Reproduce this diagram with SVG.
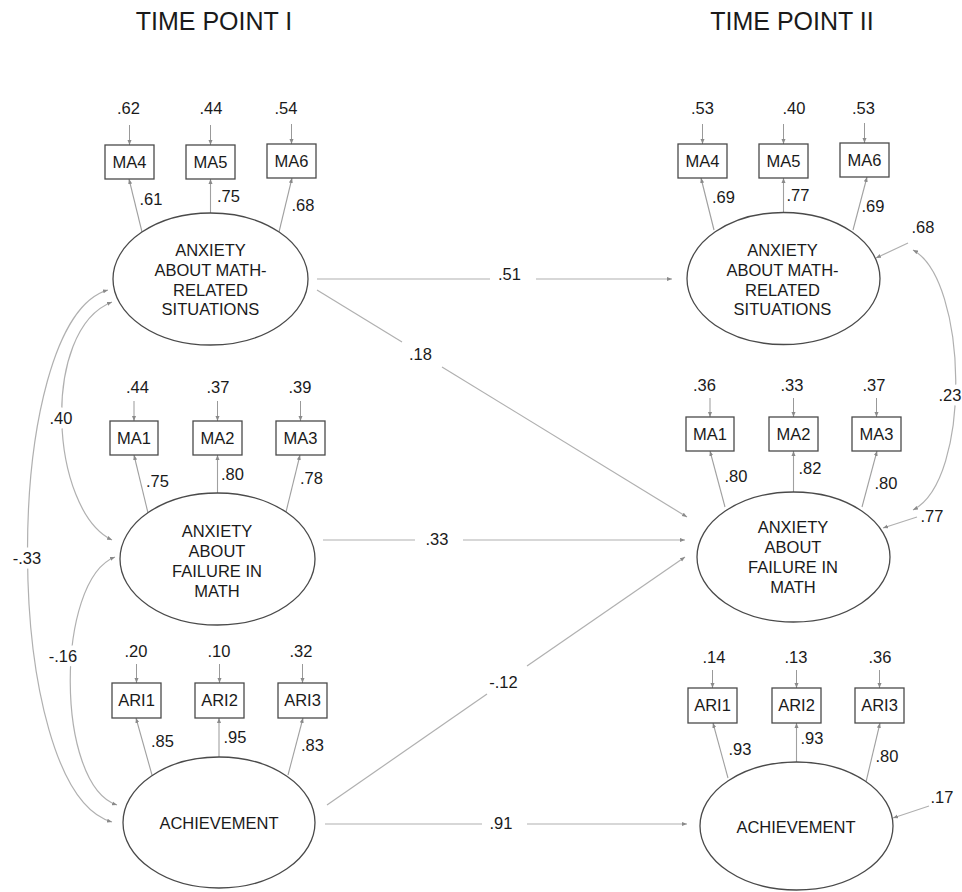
<svg xmlns="http://www.w3.org/2000/svg" width="962" height="892" viewBox="0 0 962 892">
<defs>
<marker id="ah" viewBox="0 0 10 10" refX="10" refY="5" markerWidth="5" markerHeight="5" markerUnits="userSpaceOnUse" orient="auto-start-reverse"><path d="M0,1 L10,5 L0,9 Z" fill="#8a8a8a"/></marker>
<style>
text{font-family:"Liberation Sans",Arial,sans-serif;fill:#1a1a1a;text-anchor:middle}
.t{font-size:25px}
.n{font-size:16.5px}
.lat{fill:#fff;stroke:#4a4a4a;stroke-width:1.3}
.obs{fill:#fff;stroke:#4a4a4a;stroke-width:1.3}
.c{fill:none;stroke:#b0b0b0;stroke-width:1.2}
.ea{fill:none;stroke:#999;stroke-width:1;marker-end:url(#ah)}
.ld{fill:none;stroke:#a0a0a0;stroke-width:1.1;marker-end:url(#ah)}
.arr{marker-end:url(#ah)}
.dbl{marker-start:url(#ah);marker-end:url(#ah)}
.halo{stroke:#fff;stroke-width:9px;paint-order:stroke;stroke-linejoin:round}
</style>
</defs>
<rect width="962" height="892" fill="#fff"/>
<text class="t" x="214" y="30">TIME POINT I</text>
<text class="t" x="792" y="30">TIME POINT II</text>

<g id="connectors">
<path class="c" d="M317,279 H490"/><path class="c arr" d="M536,279 H672"/>
<path class="c" d="M317,290 L402,342"/><path class="c arr" d="M442,367 L687,517"/>
<path class="c" d="M323,540 H415"/><path class="c arr" d="M463,540 H685"/>
<path class="c" d="M327,805 L487,694"/><path class="c arr" d="M527,666 L685,557"/>
<path class="c" d="M325,824 H482"/><path class="c arr" d="M527,824 H687"/>
<path class="c dbl" d="M108,290 C0,320 0,790 112,822"/>
<path class="c dbl" d="M112,302 C40,330 50,510 112,540"/>
<path class="c dbl" d="M115,557 C55,580 55,785 117,805"/>
<path class="c dbl" d="M913,250 C968,280 972,480 913,510"/>
<path class="c arr" d="M908,243 L876,258"/>
<path class="c arr" d="M917,517 L883,528"/>
<path class="c arr" d="M929,806 L893,818"/>
<path class="ld" d="M142,232 L129,179"/><path class="ld" d="M210.5,213 L210.5,179"/><path class="ld" d="M279,232 L292,178"/>
<path class="ld" d="M148,513 L134,455"/><path class="ld" d="M217.5,493 L217.5,455"/><path class="ld" d="M286,512 L300,455"/>
<path class="ld" d="M152,775 L136,718"/><path class="ld" d="M219,757 L219,718"/><path class="ld" d="M288,775 L303,718"/>
<path class="ld" d="M714,230 L701,178"/><path class="ld" d="M783.5,213 L783.5,178"/><path class="ld" d="M853,230 L867,177"/>
<path class="ld" d="M725,507 L710,451"/><path class="ld" d="M793.5,492 L793.5,451"/><path class="ld" d="M862,507 L877,451"/>
<path class="ld" d="M728,778 L713,723"/><path class="ld" d="M796.5,762 L796.5,723"/><path class="ld" d="M866,782 L880,723"/>
<path class="ea" d="M129.5,125 V145"/><path class="ea" d="M210.5,125 V145"/><path class="ea" d="M291.5,124 V144"/>
<path class="ea" d="M134,401 V421"/><path class="ea" d="M217.5,401 V421"/><path class="ea" d="M300.5,401 V421"/>
<path class="ea" d="M136.5,664 V683"/><path class="ea" d="M219.5,664 V683"/><path class="ea" d="M302.5,664 V683"/>
<path class="ea" d="M702.5,124 V144"/><path class="ea" d="M783.5,124 V144"/><path class="ea" d="M864.5,123 V143"/>
<path class="ea" d="M710,398 V417"/><path class="ea" d="M793.5,398 V417"/><path class="ea" d="M876.5,398 V417"/>
<path class="ea" d="M712.5,670 V688"/><path class="ea" d="M796.5,670 V688"/><path class="ea" d="M879.5,670 V688"/>
<text class="n" x="509.5" y="280">.51</text>
<text class="n" x="420.5" y="360">.18</text>
<text class="n" x="437" y="545">.33</text>
<text class="n" x="503.5" y="688">-.12</text>
<text class="n" x="501" y="829">.91</text>
<text class="n halo" x="61" y="424">.40</text>
<text class="n halo" x="27" y="564">-.33</text>
<text class="n halo" x="63" y="662">-.16</text>
<text class="n halo" x="950" y="401">.23</text>
<text class="n" x="923" y="233">.68</text>
<text class="n" x="932" y="522">.77</text>
<text class="n" x="942" y="803">.17</text>
<text class="n" x="151" y="205">.61</text><text class="n" x="228.5" y="202">.75</text><text class="n" x="303" y="211">.68</text>
<text class="n" x="157.5" y="487">.75</text><text class="n" x="232.5" y="480">.80</text><text class="n" x="311.5" y="484">.78</text>
<text class="n" x="162.5" y="747">.85</text><text class="n" x="235" y="743">.95</text><text class="n" x="312.5" y="751">.83</text>
<text class="n" x="723.5" y="203">.69</text><text class="n" x="798" y="201">.77</text><text class="n" x="873" y="212">.69</text>
<text class="n" x="736" y="482">.80</text><text class="n" x="810" y="474">.82</text><text class="n" x="886" y="489">.80</text>
<text class="n" x="740" y="755">.93</text><text class="n" x="812" y="744">.93</text><text class="n" x="887" y="762">.80</text>
<text class="n" x="128.5" y="114">.62</text><text class="n" x="211" y="114">.44</text><text class="n" x="286" y="114">.54</text>
<text class="n" x="137.5" y="393">.44</text><text class="n" x="218" y="393">.37</text><text class="n" x="300" y="393">.39</text>
<text class="n" x="136" y="657">.20</text><text class="n" x="219" y="657">.10</text><text class="n" x="301" y="657">.32</text>
<text class="n" x="702.5" y="114">.53</text><text class="n" x="794" y="114">.40</text><text class="n" x="863.5" y="114">.53</text>
<text class="n" x="704.5" y="391">.36</text><text class="n" x="792" y="391">.33</text><text class="n" x="874" y="391">.37</text>
<text class="n" x="714" y="663">.14</text><text class="n" x="796" y="663">.13</text><text class="n" x="880" y="663">.36</text>
</g>

<g id="t1-math-situations">
<ellipse class="lat" cx="210.5" cy="279" rx="97.5" ry="66"/>
<text class="n" x="210.5" y="256">ANXIETY</text><text class="n" x="210.5" y="276">ABOUT MATH-</text><text class="n" x="210.5" y="296">RELATED</text><text class="n" x="210.5" y="315">SITUATIONS</text>
</g>
<g id="t1-failure">
<ellipse class="lat" cx="217.5" cy="559" rx="97.5" ry="66"/>
<text class="n" x="217" y="537">ANXIETY</text><text class="n" x="217" y="557">ABOUT</text><text class="n" x="217" y="577">FAILURE IN</text><text class="n" x="217" y="597">MATH</text>
</g>
<g id="t1-achievement">
<ellipse class="lat" cx="219" cy="822.5" rx="96" ry="65.5"/>
<text class="n" x="219" y="829">ACHIEVEMENT</text>
</g>
<g id="t2-math-situations">
<ellipse class="lat" cx="783.5" cy="278.5" rx="96.5" ry="66"/>
<text class="n" x="782.5" y="256">ANXIETY</text><text class="n" x="782.5" y="276">ABOUT MATH-</text><text class="n" x="782.5" y="296">RELATED</text><text class="n" x="782.5" y="315">SITUATIONS</text>
</g>
<g id="t2-failure">
<ellipse class="lat" cx="793.5" cy="557" rx="96.5" ry="65"/>
<text class="n" x="793" y="533">ANXIETY</text><text class="n" x="793" y="553">ABOUT</text><text class="n" x="793" y="573">FAILURE IN</text><text class="n" x="793" y="593">MATH</text>
</g>
<g id="t2-achievement">
<ellipse class="lat" cx="796.5" cy="826" rx="96.5" ry="64"/>
<text class="n" x="796" y="833">ACHIEVEMENT</text>
</g>

<g id="t1-MA4"><rect class="obs" x="105" y="145" width="49" height="34"/><text class="n" x="129.5" y="168">MA4</text></g>
<g id="t1-MA5"><rect class="obs" x="186" y="145" width="49" height="34"/><text class="n" x="210.5" y="168">MA5</text></g>
<g id="t1-MA6"><rect class="obs" x="267" y="144" width="49" height="34"/><text class="n" x="291.5" y="167">MA6</text></g>
<g id="t1-MA1"><rect class="obs" x="110" y="421" width="48" height="34"/><text class="n" x="134" y="444">MA1</text></g>
<g id="t1-MA2"><rect class="obs" x="193" y="421" width="49" height="34"/><text class="n" x="217.5" y="444">MA2</text></g>
<g id="t1-MA3"><rect class="obs" x="276" y="421" width="49" height="34"/><text class="n" x="300.5" y="444">MA3</text></g>
<g id="t1-ARI1"><rect class="obs" x="112" y="683" width="49" height="35"/><text class="n" x="136.5" y="706">ARI1</text></g>
<g id="t1-ARI2"><rect class="obs" x="195" y="683" width="49" height="35"/><text class="n" x="219.5" y="706">ARI2</text></g>
<g id="t1-ARI3"><rect class="obs" x="278" y="683" width="49" height="35"/><text class="n" x="302.5" y="706">ARI3</text></g>
<g id="t2-MA4"><rect class="obs" x="678" y="144" width="49" height="34"/><text class="n" x="702.5" y="167">MA4</text></g>
<g id="t2-MA5"><rect class="obs" x="759" y="144" width="49" height="34"/><text class="n" x="783.5" y="167">MA5</text></g>
<g id="t2-MA6"><rect class="obs" x="840" y="143" width="49" height="34"/><text class="n" x="864.5" y="166">MA6</text></g>
<g id="t2-MA1"><rect class="obs" x="686" y="417" width="48" height="34"/><text class="n" x="710" y="440">MA1</text></g>
<g id="t2-MA2"><rect class="obs" x="769" y="417" width="49" height="34"/><text class="n" x="793.5" y="440">MA2</text></g>
<g id="t2-MA3"><rect class="obs" x="852" y="417" width="49" height="34"/><text class="n" x="876.5" y="440">MA3</text></g>
<g id="t2-ARI1"><rect class="obs" x="688" y="688" width="49" height="35"/><text class="n" x="712.5" y="711">ARI1</text></g>
<g id="t2-ARI2"><rect class="obs" x="772" y="688" width="49" height="35"/><text class="n" x="796.5" y="711">ARI2</text></g>
<g id="t2-ARI3"><rect class="obs" x="855" y="688" width="49" height="35"/><text class="n" x="879.5" y="711">ARI3</text></g>
</svg>
